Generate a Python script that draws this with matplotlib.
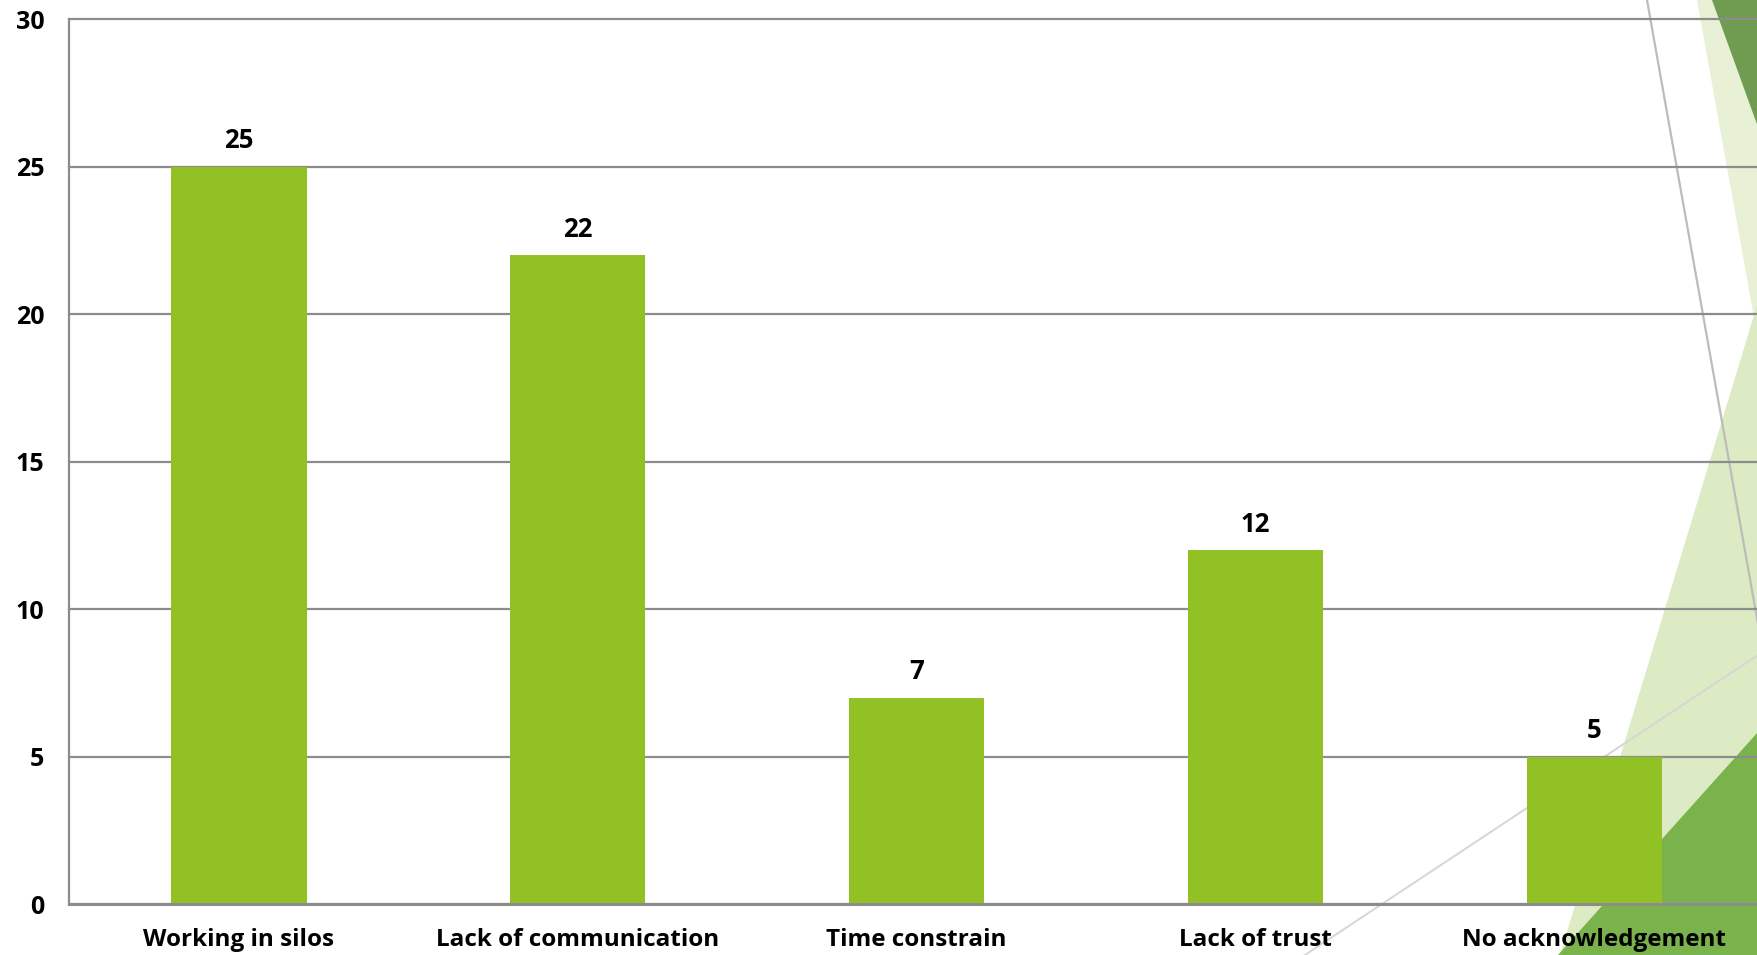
import matplotlib
matplotlib.use("Agg")
import matplotlib.pyplot as plt
from matplotlib.patches import Polygon
from matplotlib.lines import Line2D

categories = ["Working in silos", "Lack of communication", "Time constrain",
              "Lack of trust", "No acknowledgement"]
values = [25, 22, 7, 12, 5]
yticks = [0, 5, 10, 15, 20, 25, 30]

W, H = 1758, 955
fig = plt.figure(figsize=(W / 100, H / 100), dpi=100)
fig.patch.set_facecolor("white")

# background decoration (pixel coordinates)
bg = fig.add_axes([0, 0, 1, 1], zorder=0)
bg.set_xlim(0, W)
bg.set_ylim(H, 0)
bg.axis("off")
shapes = [
    ([(1697, 0), (W, 0), (W, 340)], "#e8f1d6"),
    ([(1712, 0), (W, 0), (W, 127)], "#6f9c51"),
    ([(W, 302), (W, H), (1560, H)], "#dcebc3"),
    ([(W, 732), (W, H), (1558, H)], "#7ab34b"),
]
for pts, c in shapes:
    bg.add_patch(Polygon(pts, closed=True, facecolor=c, edgecolor="none"))
bg.add_line(Line2D([1647, W], [0, 624], color="#bcbcbc", lw=1.6))
bg.add_line(Line2D([1305, W], [H, 655], color="#d6d6d6", lw=1.4))

left = 69.3
right = W
top = 19.3
bottom = 904
ax = fig.add_axes([left / W, (H - bottom) / H, (right - left) / W, (bottom - top) / H],
                  zorder=1)
ax.set_facecolor("none")

step = 338.9
x = list(range(len(categories)))
bars = ax.bar(x, values, width=0.4, color="#92c126", zorder=3)
ax.set_xlim(-0.5, -0.5 + (right - left) / step)
ax.set_ylim(0, 30)
ax.set_yticks(yticks)
ax.set_xticks(x)

font = "Open Sans"
ax.set_xticklabels(categories, fontsize=17.5, fontweight="bold", family=font)
ax.set_yticklabels([str(t) for t in yticks], fontsize=18, fontweight="bold", family=font)
ax.tick_params(axis="x", length=0, pad=17)
ax.tick_params(axis="y", length=0, pad=18)

ax.set_axisbelow(True)
ax.yaxis.grid(True, color="#8c8c8c", lw=1.6)
for gl in ax.get_ygridlines():
    gl.set_clip_on(False)
for s in ["top", "right"]:
    ax.spines[s].set_visible(False)
ax.spines["left"].set_color("#8c8c8c")
ax.spines["left"].set_linewidth(1.6)
ax.spines["bottom"].set_color("#8c8c8c")
ax.spines["bottom"].set_linewidth(2.2)
ax.spines["bottom"].set_zorder(4)

for b, v in zip(bars, values):
    ax.annotate(str(v), (b.get_x() + b.get_width() / 2, v), xytext=(0, 9),
                textcoords="offset points", ha="center", va="bottom",
                fontsize=18.5, fontweight="bold", family=font, color="black")

fig.savefig("out.png", dpi=100)
